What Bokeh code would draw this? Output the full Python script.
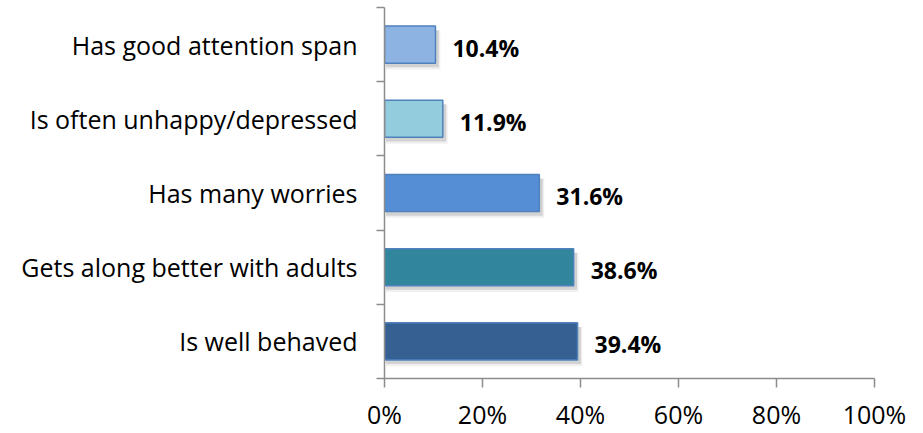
from bokeh.plotting import figure
from bokeh.models import FixedTicker, ColumnDataSource, Range1d
from bokeh.core.properties import value
from bokeh.embed import file_html
from bokeh.resources import INLINE

categories = ["Is well behaved", "Gets along better with adults", "Has many worries",
              "Is often unhappy/depressed", "Has good attention span"]
values = [39.4, 38.6, 31.6, 11.9, 10.4]
colors = ["#366092", "#31859C", "#558ED5", "#93CDDD", "#8DB3E2"]
x_ticks = [0, 20, 40, 60, 80, 100]
x_tick_labels = ["0%", "20%", "40%", "60%", "80%", "100%"]

pos = [i + 0.5 for i in range(len(categories))]
labels = [f"{v:.1f}%" for v in values]

src = ColumnDataSource(dict(y=pos, v=values, c=colors, lab=labels,
                            sy=[p - 0.055 for p in pos],
                            sy2=[p - 0.07 for p in pos],
                            sr=[v + 0.7 for v in values],
                            sr2=[v + 1.0 for v in values]))

p = figure(width=923, height=433, output_backend="svg", toolbar_location=None,
           x_range=Range1d(0, 100), y_range=Range1d(0, 5),
           min_border_left=384, min_border_right=49, min_border_top=7, min_border_bottom=52)
p.outline_line_color = None
p.xgrid.visible = False
p.ygrid.visible = False
p.background_fill_color = "white"
p.border_fill_color = "white"

# shadows
p.hbar(y="sy2", left=0.3, right="sr2", height=0.53, source=src,
       fill_color="black", fill_alpha=0.06, line_color=None)
p.hbar(y="sy", left=0.3, right="sr", height=0.5, source=src,
       fill_color="black", fill_alpha=0.12, line_color=None)
# bars
p.hbar(y="y", left=0, right="v", height=0.5, source=src,
       fill_color="c", line_color="#4F81BD", line_width=1.5)

p.text(x="v", y="y", text="lab", source=src, x_offset=17, y_offset=3,
       text_font=value("Open Sans"), text_font_style="bold", text_font_size="23px",
       text_color="black", text_align="left", text_baseline="middle")

ax = p.xaxis[0]
ax.ticker = FixedTicker(ticks=x_ticks)
ax.major_label_overrides = {t: l for t, l in zip(x_ticks, x_tick_labels)}
ax.minor_tick_line_color = None
ax.major_tick_out = 9
ax.major_tick_in = 0
ax.axis_line_color = "#8C8C8C"
ax.major_tick_line_color = "#8C8C8C"
ax.axis_line_width = 1.5
ax.major_tick_line_width = 1.5
ax.major_label_text_font = "Open Sans"
ax.major_label_text_font_size = "25px"
ax.major_label_text_color = "black"
ax.major_label_standoff = 9

ay = p.yaxis[0]
ay.ticker = FixedTicker(ticks=pos, minor_ticks=list(range(len(categories) + 1)))
ay.major_label_overrides = {pp: c for pp, c in zip(pos, categories)}
ay.major_tick_line_color = None
ay.major_tick_out = 0
ay.major_tick_in = 0
ay.minor_tick_out = 8
ay.minor_tick_in = 0
ay.minor_tick_line_color = "#8C8C8C"
ay.minor_tick_line_width = 1.5
ay.axis_line_color = "#8C8C8C"
ay.axis_line_width = 1.5
ay.major_label_text_font = "Open Sans"
ay.major_label_text_font_size = "25px"
ay.major_label_text_color = "black"
ay.major_label_standoff = 19

open("out.html", "w").write(file_html(p, INLINE))
